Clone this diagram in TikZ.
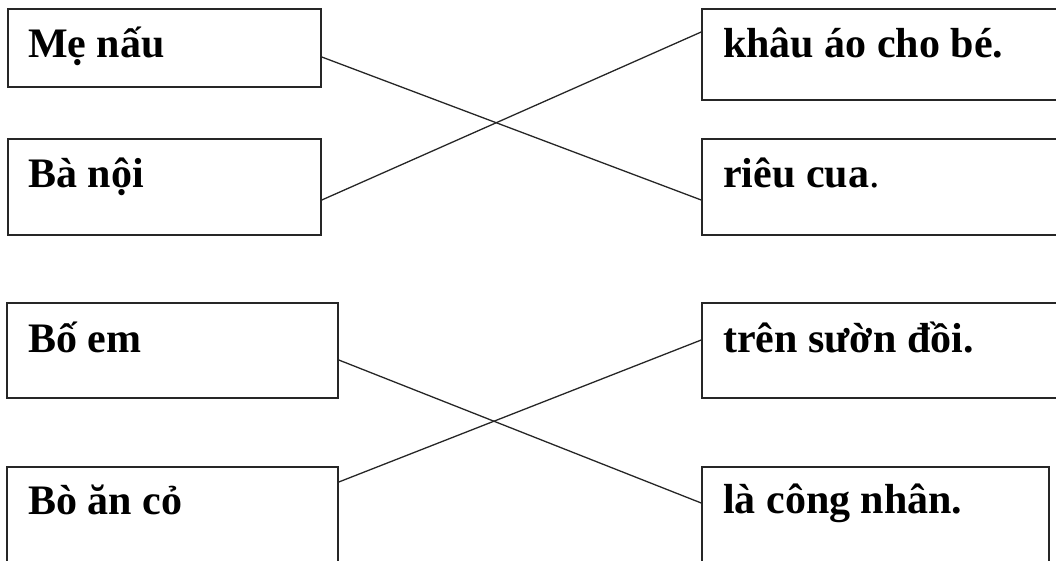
\documentclass[tikz,border=0pt]{standalone}
\usepackage{fontspec}
\setmainfont{Liberation Serif}
\begin{document}
\begin{tikzpicture}[x=1pt,y=-1pt,
  box/.style={draw=black!85, line width=1.6pt, rectangle, inner sep=0pt},
  word/.style={anchor=base west, inner sep=0pt, font=\fontsize{42}{48}\selectfont\bfseries},
  link/.style={draw=black!85, line width=1.3pt}]
\useasboundingbox (0,0) rectangle (1056,561);
\clip (0,0) rectangle (1056,561);
% left column
\node[box, minimum width=313pt, minimum height=78pt] (b1) at (164.5,48) {};
\node[box, minimum width=313pt, minimum height=96pt] (b2) at (164.5,187) {};
\node[box, minimum width=331pt, minimum height=95pt] (b3) at (172.5,350.5) {};
\node[box, minimum width=331pt, minimum height=140pt] (b4) at (172.5,537) {};
% right column
\node[box, minimum width=400pt, minimum height=91pt] (c1) at (902,54.5) {};
\node[box, minimum width=400pt, minimum height=96pt] (c2) at (902,187) {};
\node[box, minimum width=400pt, minimum height=95pt] (c3) at (902,350.5) {};
\node[box, minimum width=347pt, minimum height=140pt] (c4) at (875.5,537) {};
% texts
\node[word] (t1) at (28,58) {Mẹ nấu};
\node[word] (t2) at (28,188) {Bà nội};
\node[word] (t3) at (28,352) {Bố em};
\node[word] (t4) at (28,514) {Bò ăn cỏ};
\node[word] (u1) at (723,58) {khâu áo cho bé.};
\node[word] (u2) at (723,188) {riêu cua\mdseries.};
\node[word] (u3) at (723,352) {trên sườn đồi.};
\node[word] (u4) at (723,513) {là công nhân.};
% matching lines
\draw[link] ([yshift=-9pt]b1.east) -- ([yshift=-13pt]c2.west);
\draw[link] ([yshift=-13pt]b2.east) -- ([yshift=22.5pt]c1.west);
\draw[link] ([yshift=-9.5pt]b3.east) -- ([yshift=34pt]c4.west);
\draw[link] ([yshift=55pt]b4.east) -- ([yshift=10.5pt]c3.west);
\end{tikzpicture}
\end{document}
